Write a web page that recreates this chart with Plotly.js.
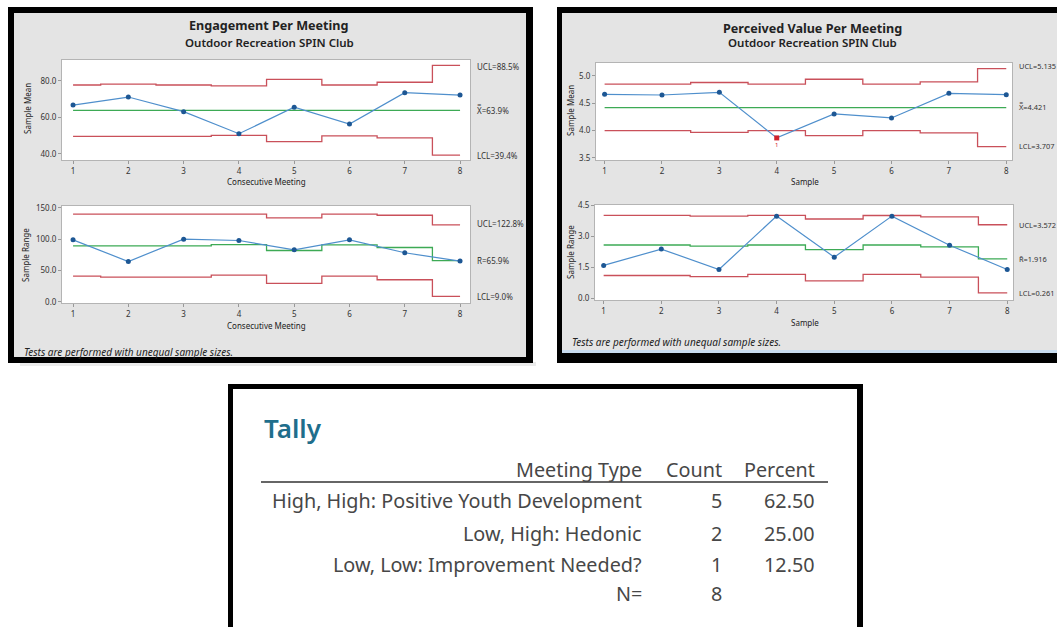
<!DOCTYPE html>
<html><head><meta charset="utf-8">
<script src="https://cdn.plot.ly/plotly-3.0.1.min.js"></script>
<style>html,body{margin:0;padding:0;background:#fff}#chart{width:1057px;height:627px}</style>
</head><body><div id="chart"></div>
<script>
// ---------- data ----------
const meetings = [1, 2, 3, 4, 5, 6, 7, 8];

// Engagement Per Meeting (Xbar-R)
const engMean    = [66.8, 71.2, 63.2, 51.1, 65.6, 56.4, 73.6, 72.3];
const engMeanCL  = [63.9, 63.9, 63.9, 63.9, 63.9, 63.9, 63.9, 63.9];
const engMeanUCL = [77.8, 78.3, 77.8, 77.3, 80.9, 77.8, 79.3, 88.5];
const engMeanLCL = [49.6, 49.6, 49.6, 50.2, 46.8, 49.9, 48.8, 39.4];
const engRange    = [98.9, 64.4, 100.0, 97.8, 83.0, 98.9, 78.3, 65.1];
const engRangeCL  = [89.4, 89.4, 89.4, 91.4, 81.9, 90.9, 86.7, 65.9];
const engRangeUCL = [139.7, 139.7, 139.7, 139.7, 133.8, 139.7, 138.0, 122.8];
const engRangeLCL = [41.3, 39.7, 39.7, 42.9, 29.5, 41.3, 35.4, 9.0];

// Perceived Value Per Meeting (Xbar-R)
const valMean    = [4.664, 4.652, 4.700, 3.867, 4.305, 4.232, 4.682, 4.657];
const valMeanCL  = [4.421, 4.421, 4.421, 4.421, 4.421, 4.421, 4.421, 4.421];
const valMeanUCL = [4.850, 4.850, 4.880, 4.850, 4.940, 4.850, 4.890, 5.135];
const valMeanLCL = [4.000, 4.000, 3.970, 4.000, 3.910, 4.000, 3.960, 3.707];
const valRange    = [1.60, 2.39, 1.40, 3.99, 2.00, 3.99, 2.58, 1.40];
const valRangeCL  = [2.59, 2.59, 2.53, 2.59, 2.36, 2.59, 2.50, 1.916];
const valRangeUCL = [4.03, 4.03, 3.99, 4.03, 3.85, 4.02, 3.95, 3.572];
const valRangeLCL = [1.11, 1.11, 1.05, 1.16, 0.85, 1.16, 1.03, 0.261];

// Tally
const tallyHeader   = ["Meeting Type", "Count", "Percent"];
const tallyTypes    = ["High, High: Positive Youth Development", "Low, High: Hedonic", "Low, Low: Improvement Needed?"];
const tallyCounts   = [5, 2, 1];
const tallyPercents = [62.50, 25.00, 12.50];
const tallyN = 8;

// ---------- layout helpers ----------
const W = 1057, H = 627;
const fx = p => p / W;
const fy = p => 1 - p / H;
const FONT = "Noto Sans, Open Sans, sans-serif";
const RED = "#c9505a", GREEN = "#3daa55", BLUE = "#4f8fcc", DOT = "#1d5794", GRAYBG = "#e4e4e4";

function rect(x0, y0, x1, y1, color) {
  return {type: "rect", xref: "paper", yref: "paper", x0: fx(x0), x1: fx(x1), y0: fy(y1), y1: fy(y0),
          fillcolor: color, line: {width: 0}, layer: "below"};
}
function ann(text, x, y, o) {
  o = o || {};
  return Object.assign({text: text, xref: "paper", yref: "paper", x: fx(x), y: fy(y), showarrow: false,
    xanchor: "center", yanchor: "middle", font: {family: FONT, size: 8, color: "#333"}}, o);
}

const traces = [];
function addChart(xa, ya, vals, cl, ucl, lcl) {
  const common = {x: meetings, xaxis: xa, yaxis: ya, mode: "lines", hoverinfo: "skip", showlegend: false};
  traces.push(Object.assign({}, common, {y: ucl, line: {shape: "hvh", color: RED, width: 1.3}}));
  traces.push(Object.assign({}, common, {y: lcl, line: {shape: "hvh", color: RED, width: 1.3}}));
  traces.push(Object.assign({}, common, {y: cl,  line: {shape: "hvh", color: GREEN, width: 1.3}}));
  const out = vals.map((v, i) => v > ucl[i] || v < lcl[i]);
  traces.push({x: meetings, y: vals, xaxis: xa, yaxis: ya, mode: "lines+markers", hoverinfo: "skip", showlegend: false,
    line: {color: BLUE, width: 1.2},
    marker: {size: 5, symbol: out.map(o => o ? "square" : "circle"),
             color: out.map(o => o ? "#d0202a" : DOT)}});
}
addChart("x", "y", engMean, engMeanCL, engMeanUCL, engMeanLCL);
addChart("x2", "y2", engRange, engRangeCL, engRangeUCL, engRangeLCL);
addChart("x3", "y3", valMean, valMeanCL, valMeanUCL, valMeanLCL);
addChart("x4", "y4", valRange, valRangeCL, valRangeUCL, valRangeLCL);

function xax(px0, px1, range, anchor) {
  return {domain: [fx(px0), fx(px1)], range: range, anchor: anchor, tickvals: meetings, ticks: "outside", ticklen: 3,
    tickcolor: "#999", showline: true, mirror: true, linecolor: "#b4b4b4", linewidth: 1, showgrid: false, zeroline: false,
    tickfont: {family: FONT, size: 8, color: "#333"}, fixedrange: true};
}
function yax(py0, py1, range, tickvals, suffix, anchor) {
  return {domain: [fy(py1), fy(py0)], range: range, anchor: anchor, tickvals: tickvals, tickformat: ".1f",
    ticksuffix: suffix, ticks: "outside", ticklen: 3, tickcolor: "#999", showline: true, mirror: true,
    linecolor: "#b4b4b4", linewidth: 1, showgrid: false, zeroline: false,
    tickfont: {family: FONT, size: 8, color: "#333"}, fixedrange: true};
}

const shapes = [
  rect(20, 362, 536, 366, "rgba(0,0,0,0.08)"),
  rect(8, 7, 533, 363, "#000"),
  rect(14, 13, 526, 357, GRAYBG),
  rect(557, 7, 1060, 363, "#000"),
  rect(562, 13, 1060, 350, GRAYBG),
  rect(562, 350, 1060, 353, "#c8dcef"),
  rect(228, 384, 863, 630, "#000"),
  rect(233, 389, 857, 630, "#fff")
];
["", "2", "3", "4"].forEach(s => shapes.push({type: "rect", xref: "x" + s + " domain", yref: "y" + s + " domain",
  x0: 0, x1: 1, y0: 0, y1: 1, fillcolor: "#fff", line: {width: 0}, layer: "below"}));
shapes.push({type: "line", xref: "paper", yref: "paper", x0: fx(261), x1: fx(828), y0: fy(482), y1: fy(482),
  line: {color: "#333", width: 1.6}});

const bold = {family: FONT, size: 12.6, color: "#222", weight: 700};
const sub = {family: FONT, size: 11.5, color: "#222", weight: 600};
const axt = {family: FONT, size: 8, color: "#222"};
const lab = {family: FONT, size: 8, color: "#333"};
const labR = {family: FONT, size: 7.4, color: "#333"};
const foot = {family: FONT, size: 10, color: "#222", style: "italic"};

const annotations = [
  ann("Engagement Per Meeting", 269, 26, {font: bold}),
  ann("Outdoor Recreation SPIN Club", 269, 42, {font: sub}),
  ann("Consecutive Meeting", 266, 181, {font: axt}),
  ann("Consecutive Meeting", 266, 325, {font: axt}),
  ann("Sample Mean", 27, 109, {font: axt, textangle: -90}),
  ann("Sample Range", 25, 255, {font: axt, textangle: -90}),
  ann("UCL=" + engMeanUCL[7].toFixed(1) + "%", 475, 66, {font: lab, xanchor: "left"}),
  ann("X\u033F=" + engMeanCL[7].toFixed(1) + "%", 475, 110, {font: lab, xanchor: "left"}),
  ann("LCL=" + engMeanLCL[7].toFixed(1) + "%", 475, 155, {font: lab, xanchor: "left"}),
  ann("UCL=" + engRangeUCL[7].toFixed(1) + "%", 475, 224, {font: lab, xanchor: "left"}),
  ann("R\u0304=" + engRangeCL[7].toFixed(1) + "%", 475, 260, {font: lab, xanchor: "left"}),
  ann("LCL=" + engRangeLCL[7].toFixed(1) + "%", 475, 296, {font: lab, xanchor: "left"}),
  ann("Tests are performed with unequal sample sizes.", 22, 352, {font: foot, xanchor: "left"}),

  ann("Perceived Value Per Meeting", 812, 28, {font: bold}),
  ann("Outdoor Recreation SPIN Club", 812, 43, {font: sub}),
  ann("Sample", 805, 181, {font: axt}),
  ann("Sample", 805, 322, {font: axt}),
  ann("Sample Mean", 570, 111, {font: axt, textangle: -90}),
  ann("Sample Range", 570, 252, {font: axt, textangle: -90}),
  ann("UCL=" + valMeanUCL[7].toFixed(3), 1017, 66, {font: labR, xanchor: "left"}),
  ann("X\u033F=" + valMeanCL[7].toFixed(3), 1017, 107, {font: labR, xanchor: "left"}),
  ann("LCL=" + valMeanLCL[7].toFixed(3), 1017, 146, {font: labR, xanchor: "left"}),
  ann("UCL=" + valRangeUCL[7].toFixed(3), 1017, 225, {font: labR, xanchor: "left"}),
  ann("R\u0304=" + valRangeCL[7].toFixed(3), 1017, 259, {font: labR, xanchor: "left"}),
  ann("LCL=" + valRangeLCL[7].toFixed(3), 1017, 293, {font: labR, xanchor: "left"}),
  ann("Tests are performed with unequal sample sizes.", 570, 342, {font: foot, xanchor: "left"}),

  ann("Tally", 262, 428, {font: {family: FONT, size: 26, color: "#1f6e8c", weight: 600}, xanchor: "left"})
];
// tally table text
const tfont = {family: FONT, size: 19.8, color: "#474747"};
const colRight = [644, 724, 817];
tallyHeader.forEach((h, i) => annotations.push(ann(h, colRight[i], 469, {font: tfont, xanchor: "right"})));
const rowY = [501, 533, 564];
tallyTypes.forEach((t, i) => {
  annotations.push(ann(t, colRight[0], rowY[i], {font: tfont, xanchor: "right"}));
  annotations.push(ann(String(tallyCounts[i]), colRight[1], rowY[i], {font: tfont, xanchor: "right"}));
  annotations.push(ann(tallyPercents[i].toFixed(2), colRight[2], rowY[i], {font: tfont, xanchor: "right"}));
});
annotations.push(ann("N=", colRight[0], 593, {font: tfont, xanchor: "right"}));
annotations.push(ann(String(tallyN), colRight[1], 593, {font: tfont, xanchor: "right"}));
// out-of-control test flag
valMean.forEach((v, i) => {
  if (v < valMeanLCL[i] || v > valMeanUCL[i]) {
    annotations.push({text: "1", x: meetings[i], y: v, xref: "x3", yref: "y3", showarrow: false, yshift: -7,
      font: {family: FONT, size: 6, color: "#d0202a"}});
  }
});

const layout = {
  width: W, height: H, margin: {l: 0, r: 0, t: 0, b: 0},
  paper_bgcolor: "#fff", plot_bgcolor: "#fff", showlegend: false,
  xaxis:  xax(62, 470, [0.8, 8.18], "y"),
  yaxis:  yax(60, 160, [36.7, 91.5], [40, 60, 80], "%", "x"),
  xaxis2: xax(62, 470, [0.8, 8.18], "y2"),
  yaxis2: yax(206, 303, [-1.6, 152.7], [0, 50, 100, 150], "%", "x2"),
  xaxis3: xax(596, 1012, [0.85, 8.1], "y3"),
  yaxis3: yax(63, 160, [3.463, 5.237], [3.5, 4.0, 4.5, 5.0], "", "x3"),
  xaxis4: xax(595, 1013, [0.85, 8.1], "y4"),
  yaxis4: yax(205, 300, [-0.08, 4.53], [0, 1.5, 3.0, 4.5], "", "x4"),
  shapes: shapes,
  annotations: annotations
};
Plotly.newPlot("chart", traces, layout, {displayModeBar: false, staticPlot: true});
</script>
</body></html>
